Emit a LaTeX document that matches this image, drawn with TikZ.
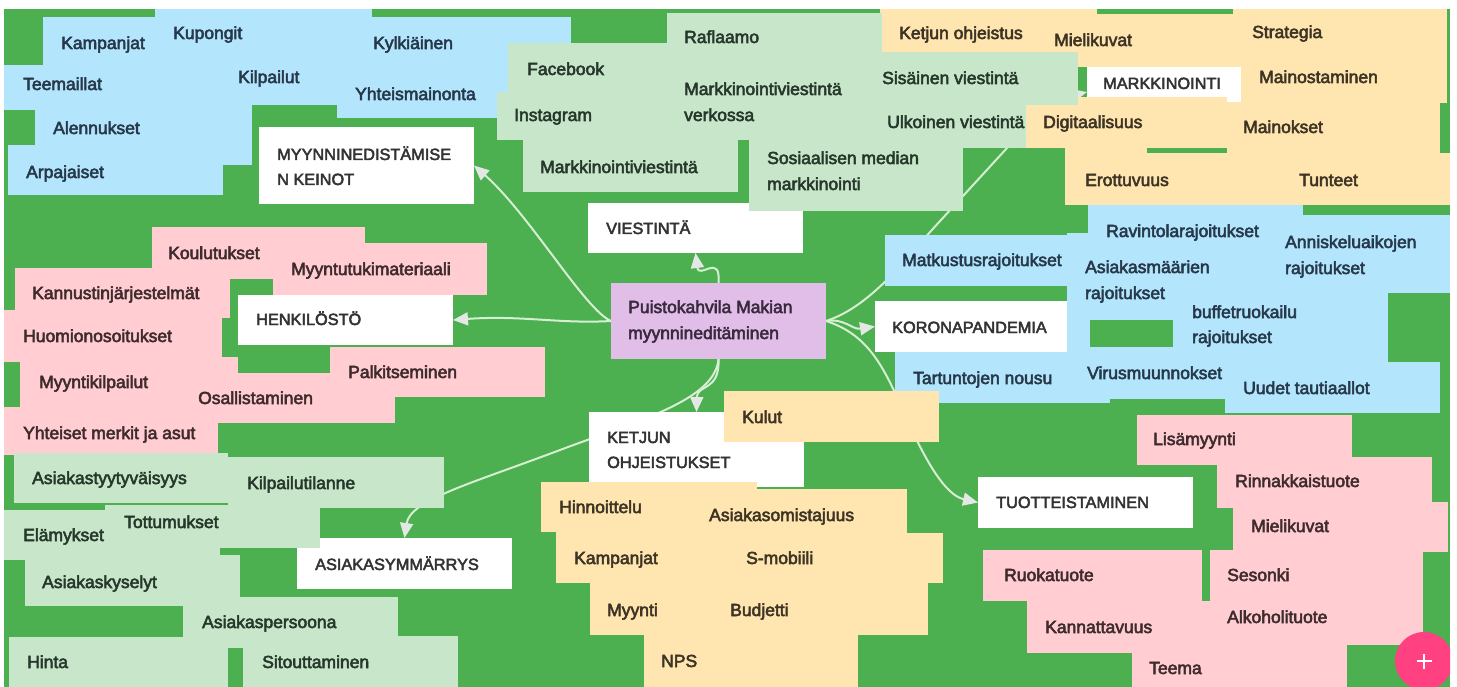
\documentclass[tikz,border=0pt]{standalone}
\usepackage{fontspec}
\setmainfont{Liberation Sans}
\newfontfamily\nf{Liberation Sans}[FakeBold=3]
\usetikzlibrary{arrows.meta}
\definecolor{bggreen}{HTML}{4CAF50}
\definecolor{nblue}{HTML}{B3E5FC}
\definecolor{ngreen}{HTML}{C8E6C9}
\definecolor{nyel}{HTML}{FFE5AF}
\definecolor{npink}{HTML}{FFCDD2}
\definecolor{npurple}{HTML}{E1BEE7}
\definecolor{plusclr}{HTML}{FF4081}
\definecolor{lineclr}{HTML}{D6EFD3}
\definecolor{arrclr}{HTML}{E4E8E4}
\definecolor{tb}{HTML}{26384A}
\definecolor{tg}{HTML}{26382C}
\definecolor{ty}{HTML}{3D3425}
\definecolor{tp}{HTML}{3E2B2D}
\definecolor{tw}{HTML}{333333}
\definecolor{tc}{HTML}{3A2A40}
\pgfdeclarelayer{back}
\pgfdeclarelayer{lines}
\pgfsetlayers{back,lines,main}
\tikzset{
  conn/.style={draw=lineclr, line width=2pt, -{Triangle[length=15pt,width=13pt,color=arrclr]}},
  topic/.style={fill=white, draw=none, minimum width=215pt, minimum height=50pt, anchor=north west, inner sep=0pt, outer sep=0pt},
  nt/.style={anchor=base west, inner sep=0pt, font=\nf\fontsize{17.5}{21}\selectfont},
  ut/.style={anchor=base west, inner sep=0pt, text=tw, font=\nf\fontsize{16.3}{20}\selectfont},
}
\newcommand\nrect[5]{\fill[#1] (#2,#3) rectangle (#4,#5);}
\begin{document}
\begin{tikzpicture}[x=1pt,y=-1pt]
\useasboundingbox (0,0) rectangle (1457,687);
\begin{pgfonlayer}{back}
\fill[white] (0,0) rectangle (1457,687);
\fill[bggreen] (4,9) rectangle (1450,687);
\end{pgfonlayer}

% topic boxes
\node[topic, minimum height=77pt] (myyn) at (259,127) {};
\node[topic] (viest) at (588,203) {};
\node[topic] (henk) at (238,295) {};
\node[topic, minimum height=75pt] (ketjun) at (589,412) {};
\node[topic, minimum height=51pt] (asiak) at (297,538) {};
\node[topic, minimum height=51pt] (korona) at (875,301) {};
\node[topic, minimum height=51pt] (tuott) at (978,477) {};
\node[topic] (markk) at (1087,67) {};
\node[topic, fill=npurple, minimum height=76pt] (center) at (611,283) {};

% connectors
\begin{pgfonlayer}{lines}
\draw[conn] (center.west) .. controls (585,310) and (530,215) .. (myyn.east);
\draw[conn] (center.west) .. controls (560,324) and (520,315) .. (henk.east);
\draw[conn] (center.north) .. controls (721,252) and (699,280) .. (viest.south);
\draw[conn] (center.south) .. controls (720,392) and (697,384) .. (ketjun.north);
\draw[conn] (center.south) .. controls (715,400) and (640,420) .. (560,450) .. controls (470,484) and (410,500) .. (asiak.north);
\draw[conn] (center.east) .. controls (845,318) and (852,330) .. (korona.west);
\draw[conn] (center.east) .. controls (860,310) and (890,280) .. (930,232) -- (1007,148) .. controls (1030,122) and (1055,100) .. (markk.west);
\draw[conn] (center.east) .. controls (870,335) and (885,370) .. (905,415) .. controls (925,460) and (945,495) .. (tuott.west);
\end{pgfonlayer}

% blue top-left
\nrect{nblue}{155}{9}{372}{17}
\nrect{nblue}{43}{17}{571}{65}
\nrect{nblue}{4}{65}{220}{110}
\nrect{nblue}{220}{55}{337}{105}
\nrect{nblue}{337}{65}{508}{118}
\nrect{nblue}{35}{105}{252}{165}
\nrect{nblue}{8}{145}{223}{195}
% yellow top-right
\nrect{nyel}{880}{9}{1097}{59}
\nrect{nyel}{1037}{14}{1241}{67}
\nrect{nyel}{1233}{9}{1447}{60}
\nrect{nyel}{1241}{55}{1447}{103}
\nrect{nyel}{1026}{97}{1227}{148}
\nrect{nyel}{1227}{102}{1440}{153}
\nrect{nyel}{1065}{148}{1147}{153}
\nrect{nyel}{1065}{153}{1285}{205}
\nrect{nyel}{1285}{153}{1450}{205}
% light green top-middle
\nrect{ngreen}{508}{43}{667}{95}
\nrect{ngreen}{497}{92}{700}{140}
\nrect{ngreen}{523}{140}{738}{192}
\nrect{ngreen}{667}{13}{882}{140}
\nrect{ngreen}{865}{52}{1078}{105}
\nrect{ngreen}{865}{105}{1026}{148}
\nrect{ngreen}{749}{140}{963}{211}
% blue right
\nrect{nblue}{1088}{205}{1303}{258}
\nrect{nblue}{1267}{215}{1450}{293}
\nrect{nblue}{885}{235}{1067}{286}
\nrect{nblue}{1067}{233}{1282}{320}
\nrect{nblue}{1067}{318}{1090}{350}
\nrect{nblue}{1173}{293}{1388}{363}
\nrect{nblue}{895}{352}{1110}{403}
\nrect{nblue}{1067}{347}{1233}{399}
\nrect{nblue}{1225}{362}{1440}{413}
% pink left
\nrect{npink}{152}{227}{365}{279}
\nrect{npink}{273}{243}{487}{295}
\nrect{npink}{15}{268}{230}{318}
\nrect{npink}{4}{310}{222}{362}
\nrect{npink}{20}{357}{238}{407}
\nrect{npink}{330}{347}{545}{397}
\nrect{npink}{180}{373}{395}{423}
\nrect{npink}{4}{407}{218}{455}
% light green bottom-left
\nrect{ngreen}{14}{453}{228}{503}
\nrect{ngreen}{228}{457}{444}{508}
\nrect{ngreen}{105}{505}{320}{548}
\nrect{ngreen}{4}{510}{220}{560}
\nrect{ngreen}{25}{555}{240}{606}
\nrect{ngreen}{183}{597}{398}{648}
\nrect{ngreen}{9}{637}{228}{687}
\nrect{ngreen}{243}{636}{458}{687}
% yellow bottom-middle
\nrect{nyel}{724}{391}{939}{442}
\nrect{nyel}{541}{482}{757}{532}
\nrect{nyel}{690}{489}{907}{540}
\nrect{nyel}{556}{532}{772}{583}
\nrect{nyel}{727}{533}{943}{583}
\nrect{nyel}{590}{583}{806}{635}
\nrect{nyel}{713}{583}{928}{635}
\nrect{nyel}{644}{635}{858}{687}
% pink right
\nrect{npink}{1137}{415}{1352}{465}
\nrect{npink}{1217}{457}{1432}{508}
\nrect{npink}{1233}{502}{1448}{552}
\nrect{npink}{1210}{550}{1423}{600}
\nrect{npink}{1210}{595}{1423}{645}
\nrect{npink}{983}{550}{1202}{601}
\nrect{npink}{1027}{601}{1242}{653}
\nrect{npink}{1132}{645}{1347}{687}

% ---- texts ----
% blue top-left
\node[nt,text=tb] (a1) at (173,39) {Kupongit};
\node[nt,text=tb] (a2) at (61,49) {Kampanjat};
\node[nt,text=tb] (a3) at (373,49) {Kylkiäinen};
\node[nt,text=tb] (a4) at (23,90) {Teemaillat};
\node[nt,text=tb] (a5) at (238,83) {Kilpailut};
\node[nt,text=tb] (a6) at (355,100) {Yhteismainonta};
\node[nt,text=tb] (a7) at (53,134) {Alennukset};
\node[nt,text=tb] (a8) at (26,178) {Arpajaiset};
\node[ut] (myyn1) at (277,160) {MYYNNINEDISTÄMISE};
\node[ut] (myyn2) at (277,185) {N KEINOT};
% light green top
\node[nt,text=tg] (b1) at (527,75) {Facebook};
\node[nt,text=tg] (b2) at (684,43) {Raflaamo};
\node[nt,text=tg] (b3) at (684,95) {Markkinointiviestintä};
\node[nt,text=tg] (b4) at (684,121) {verkossa};
\node[nt,text=tg] (b5) at (514,121) {Instagram};
\node[nt,text=tg] (b6) at (540,173) {Markkinointiviestintä};
\node[nt,text=tg] (b7) at (767,164) {Sosiaalisen median};
\node[nt,text=tg] (b8) at (767,190) {markkinointi};
\node[nt,text=tg] (b9) at (882,84) {Sisäinen viestintä};
\node[nt,text=tg] (b10) at (887,128) {Ulkoinen viestintä};
\node[ut] (viest1) at (606,234) {VIESTINTÄ};
% yellow top-right
\node[nt,text=ty] (c1) at (899,39) {Ketjun ohjeistus};
\node[nt,text=ty] (c2) at (1054,46) {Mielikuvat};
\node[nt,text=ty] (c3) at (1252,38) {Strategia};
\node[ut] (markk1) at (1103,89) {MARKKINOINTI};
\node[nt,text=ty] (c4) at (1259,83) {Mainostaminen};
\node[nt,text=ty] (c5) at (1043,128) {Digitaalisuus};
\node[nt,text=ty] (c6) at (1243,133) {Mainokset};
\node[nt,text=ty] (c7) at (1085,186) {Erottuvuus};
\node[nt,text=ty] (c8) at (1299,186) {Tunteet};
% blue right
\node[nt,text=tb] (d1) at (1106,237) {Ravintolarajoitukset};
\node[nt,text=tb] (d2) at (1285,248) {Anniskeluaikojen};
\node[nt,text=tb] (d3) at (1285,274) {rajoitukset};
\node[nt,text=tb] (d4) at (902,266) {Matkustusrajoitukset};
\node[nt,text=tb] (d5) at (1085,273) {Asiakasmäärien};
\node[nt,text=tb] (d6) at (1085,299) {rajoitukset};
\node[ut] (korona1) at (892,333) {KORONAPANDEMIA};
\node[nt,text=tb] (d7) at (1192,318) {buffetruokailu};
\node[nt,text=tb] (d8) at (1192,343) {rajoitukset};
\node[nt,text=tb] (d9) at (913,384) {Tartuntojen nousu};
\node[nt,text=tb] (d10) at (1087,379) {Virusmuunnokset};
\node[nt,text=tb] (d11) at (1243,394) {Uudet tautiaallot};
% center
\node[nt,text=tc] (cen1) at (628,313) {Puistokahvila Makian};
\node[nt,text=tc] (cen2) at (628,339) {myynnineditäminen};
% pink left
\node[nt,text=tp] (e1) at (168,259) {Koulutukset};
\node[nt,text=tp] (e2) at (291,275) {Myyntutukimateriaali};
\node[nt,text=tp] (e3) at (32,299) {Kannustinjärjestelmät};
\node[nt,text=tp] (e4) at (23,342) {Huomionosoitukset};
\node[ut] (henk1) at (256,325) {HENKILÖSTÖ};
\node[nt,text=tp] (e5) at (39,388) {Myyntikilpailut};
\node[nt,text=tp] (e6) at (348,378) {Palkitseminen};
\node[nt,text=tp] (e7) at (198,404) {Osallistaminen};
\node[nt,text=tp] (e8) at (23,439) {Yhteiset merkit ja asut};
% yellow bottom-middle
\node[nt,text=ty] (f1) at (742,423) {Kulut};
\node[ut] (ketjun1) at (607,443) {KETJUN};
\node[ut] (ketjun2) at (607,468) {OHJEISTUKSET};
\node[nt,text=ty] (f2) at (559,513) {Hinnoittelu};
\node[nt,text=ty] (f3) at (709,521) {Asiakasomistajuus};
\node[nt,text=ty] (f4) at (574,564) {Kampanjat};
\node[nt,text=ty] (f5) at (746,564) {S-mobiili};
\node[nt,text=ty] (f6) at (607,616) {Myynti};
\node[nt,text=ty] (f7) at (730,616) {Budjetti};
\node[nt,text=ty] (f8) at (661,667) {NPS};
% light green bottom-left
\node[nt,text=tg] (g1) at (32,484) {Asiakastyytyväisyys};
\node[nt,text=tg] (g2) at (247,489) {Kilpailutilanne};
\node[nt,text=tg] (g3) at (124,528) {Tottumukset};
\node[nt,text=tg] (g4) at (23,541) {Elämykset};
\node[ut] (asiak1) at (315,570) {ASIAKASYMMÄRRYS};
\node[nt,text=tg] (g5) at (42,588) {Asiakaskyselyt};
\node[nt,text=tg] (g6) at (202,628) {Asiakaspersoona};
\node[nt,text=tg] (g7) at (27,668) {Hinta};
\node[nt,text=tg] (g8) at (262,668) {Sitouttaminen};
% pink right
\node[nt,text=tp] (h1) at (1153,445) {Lisämyynti};
\node[nt,text=tp] (h2) at (1235,487) {Rinnakkaistuote};
\node[nt,text=tp] (h3) at (1251,532) {Mielikuvat};
\node[ut] (tuott1) at (996,508) {TUOTTEISTAMINEN};
\node[nt,text=tp] (h4) at (1004,581) {Ruokatuote};
\node[nt,text=tp] (h5) at (1227,581) {Sesonki};
\node[nt,text=tp] (h6) at (1045,633) {Kannattavuus};
\node[nt,text=tp] (h7) at (1227,623) {Alkoholituote};
\node[nt,text=tp] (h8) at (1149,674) {Teema};

% plus button
\begin{scope}
\clip (0,0) rectangle (1450,687);
\fill[plusclr] (1424,661) circle (29);
\end{scope}
\coordinate (pl) at (1424,661);
\draw[white, line width=2.6pt] ([xshift=-7.5pt]pl) -- ([xshift=7.5pt]pl);
\draw[white, line width=2.6pt] ([yshift=-7.5pt]pl) -- ([yshift=7.5pt]pl);
\end{tikzpicture}
\end{document}
